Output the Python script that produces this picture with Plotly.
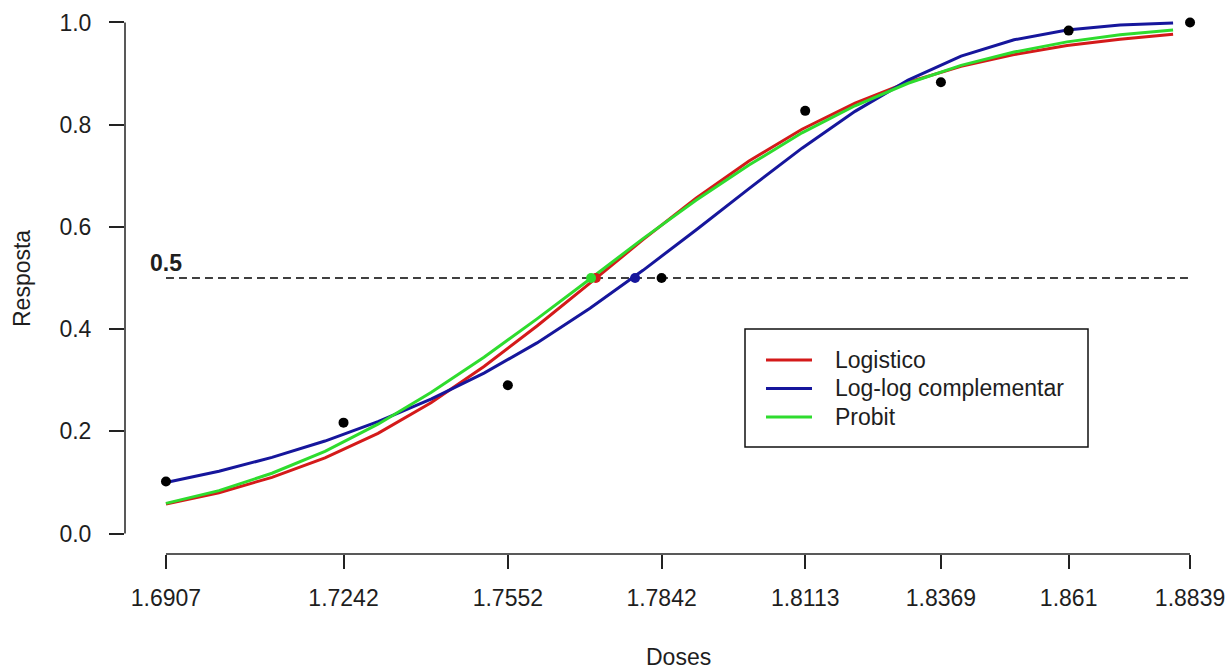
import plotly.graph_objects as go

# ---------------- data ----------------
doses = [1.6907, 1.7242, 1.7552, 1.7842, 1.8113, 1.8369, 1.8610, 1.8839]
dose_labels = ["1.6907", "1.7242", "1.7552", "1.7842", "1.8113", "1.8369", "1.861", "1.8839"]
observed = [0.102, 0.217, 0.290, 0.500, 0.827, 0.883, 0.984, 1.000]

grid = [1.6907, 1.7007, 1.7107, 1.7207, 1.7307, 1.7407, 1.7507, 1.7607, 1.7707, 1.7807,
        1.7907, 1.8007, 1.8107, 1.8207, 1.8307, 1.8407, 1.8507, 1.8607, 1.8707, 1.8807]
logistico = [0.058, 0.080, 0.110, 0.148, 0.196, 0.256, 0.327, 0.406, 0.490, 0.575,
             0.656, 0.729, 0.791, 0.842, 0.883, 0.914, 0.937, 0.955, 0.967, 0.977]
cloglog = [0.100, 0.122, 0.149, 0.181, 0.219, 0.263, 0.314, 0.373, 0.441, 0.515,
           0.594, 0.675, 0.754, 0.826, 0.887, 0.934, 0.966, 0.985, 0.995, 0.999]
probit = [0.059, 0.084, 0.118, 0.161, 0.214, 0.276, 0.345, 0.420, 0.498, 0.577,
          0.652, 0.721, 0.784, 0.837, 0.881, 0.916, 0.942, 0.962, 0.976, 0.985]

model_names = ["Logistico", "Log-log complementar", "Probit"]
model_colors = ["#D41A1A", "#16169C", "#2EDC2E"]
model_values = [logistico, cloglog, probit]
ld50 = [1.7718, 1.7792, 1.7709]
ref_level = 0.5

y_ticks = [0.0, 0.2, 0.4, 0.6, 0.8, 1.0]
y_tick_labels = ["0.0", "0.2", "0.4", "0.6", "0.8", "1.0"]

FONT = "Liberation Sans, Arial, sans-serif"
TXT = "#1e1e1e"
FS = 23

W, H = 1231, 670
ML, MR, MT, MB = 125, 0, 2, 116
PW, PH = W - ML - MR, H - MT - MB


def px_x(p):
    return (p - ML) / PW


def px_y(p):
    return (H - MB - p) / PH


fig = go.Figure()

# reference dashed line
fig.add_trace(go.Scatter(x=[doses[0], doses[-1]], y=[ref_level, ref_level], mode="lines",
                         line=dict(color="black", width=1.5, dash="8px,5px"),
                         showlegend=False, hoverinfo="skip"))

# fitted curves
for name, col, vals in zip(model_names, model_colors, model_values):
    fig.add_trace(go.Scatter(x=grid, y=vals, mode="lines", name=name, showlegend=False,
                             line=dict(color=col, width=3)))

# observed points
fig.add_trace(go.Scatter(x=doses, y=observed, mode="markers", showlegend=False,
                         name="Observado", marker=dict(color="black", size=10)))

# LD50 points
for name, col, xv in zip(model_names, model_colors, ld50):
    fig.add_trace(go.Scatter(x=[xv], y=[ref_level], mode="markers", showlegend=False,
                             name=name + " DL50", marker=dict(color=col, size=10)))

span = doses[-1] - doses[0]
xr = [doses[0] - 0.04 * span, doses[-1] + 0.04 * span]
ys = y_ticks[-1] - y_ticks[0]
yr = [y_ticks[0] - 0.04 * ys, y_ticks[-1] + 0.04 * ys]

shapes = [
    dict(type="line", xref="x", yref="paper", x0=doses[0], x1=doses[-1], y0=0, y1=0,
         line=dict(color="#222", width=1.5)),
    dict(type="line", xref="paper", yref="y", x0=0, x1=0, y0=y_ticks[0], y1=y_ticks[-1],
         line=dict(color="#222", width=1.5)),
    # legend box
    dict(type="rect", xref="paper", yref="paper", x0=px_x(745), x1=px_x(1088),
         y0=px_y(447), y1=px_y(329), line=dict(color="#111", width=1.5), fillcolor="white",
         layer="above"),
]
annotations = [
    dict(text="Doses", xref="paper", yref="paper", x=0.5, y=px_y(657), showarrow=False,
         xanchor="center", yanchor="middle", font=dict(size=FS, color=TXT)),
    dict(text="Resposta", xref="paper", yref="paper", x=px_x(22), y=0.5, showarrow=False,
         textangle=-90, xanchor="center", yanchor="middle", font=dict(size=FS, color=TXT)),
    dict(text="<b>0.5</b>", xref="x", yref="y", x=doses[0], y=ref_level, showarrow=False,
         xanchor="center", yanchor="bottom", yshift=0, font=dict(size=FS, color=TXT)),
]
row_y = [360, 388.5, 417]
for name, col, ry in zip(model_names, model_colors, row_y):
    shapes.append(dict(type="line", xref="paper", yref="paper", x0=px_x(766), x1=px_x(812),
                       y0=px_y(ry), y1=px_y(ry), line=dict(color=col, width=3), layer="above"))
    annotations.append(dict(text=name, xref="paper", yref="paper", x=px_x(833), y=px_y(ry),
                            showarrow=False, xanchor="left", yanchor="middle",
                            font=dict(size=FS, color=TXT)))

fig.update_layout(
    width=W, height=H,
    margin=dict(l=ML, r=MR, t=MT, b=MB, pad=0),
    plot_bgcolor="white", paper_bgcolor="white",
    font=dict(family=FONT, size=FS, color=TXT),
    showlegend=False,
    xaxis=dict(range=xr, showgrid=False, zeroline=False, showline=False,
               tickmode="array", tickvals=doses, ticktext=dose_labels,
               ticks="outside", ticklen=14, tickwidth=1.5, tickcolor="#222",
               ticklabelstandoff=9),
    yaxis=dict(range=yr, showgrid=False, zeroline=False, showline=False,
               tickmode="array", tickvals=y_ticks, ticktext=y_tick_labels,
               ticks="outside", ticklen=15, tickwidth=1.5, tickcolor="#222",
               ticklabelstandoff=13),
    shapes=shapes,
    annotations=annotations,
)

fig.write_html("out.html", config={"displayModeBar": False})

# remove the default page margin so the figure sits at the window's corner
with open("out.html", "r", encoding="utf-8") as f:
    html = f.read()
html = html.replace("<head>", "<head><style>html,body{margin:0;padding:0;overflow:hidden;}</style>", 1)
with open("out.html", "w", encoding="utf-8") as f:
    f.write(html)
